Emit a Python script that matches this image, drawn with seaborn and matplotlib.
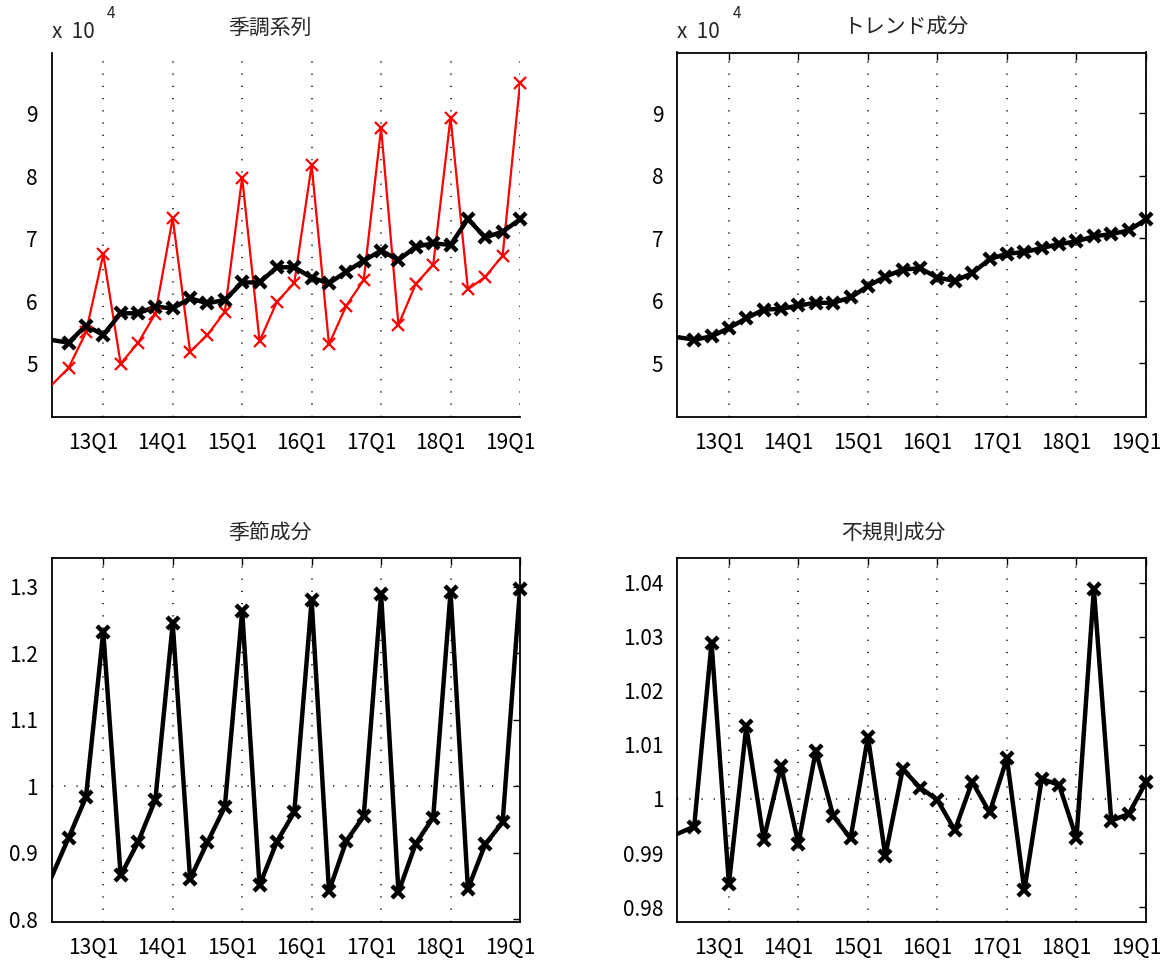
import numpy as np
import matplotlib
matplotlib.use("Agg")
import matplotlib.pyplot as plt
import matplotlib.transforms as mtransforms
from matplotlib import font_manager
from matplotlib.ticker import FuncFormatter
import seaborn as sns

# quarterly data, 12Q2 .. 19Q1
quarters = ["12Q2", "12Q3", "12Q4",
            "13Q1", "13Q2", "13Q3", "13Q4", "14Q1", "14Q2", "14Q3", "14Q4",
            "15Q1", "15Q2", "15Q3", "15Q4", "16Q1", "16Q2", "16Q3", "16Q4",
            "17Q1", "17Q2", "17Q3", "17Q4", "18Q1", "18Q2", "18Q3", "18Q4",
            "19Q1"]
original = [46500, 49300, 55000, 67500, 50000, 53300, 58000, 73300, 51900, 54600, 58300,
            79800, 53600, 59900, 62900, 81800, 53100, 59300, 63400, 87700, 56200, 62800,
            65800, 89400, 61900, 63900, 67300, 94900]
adjusted = [53800, 53350, 56100, 54600, 58060, 58060, 59120, 58860, 60460, 59660, 60200,
            63000, 63000, 65430, 65430, 63770, 62870, 64730, 66500, 68100, 66600, 68730,
            69270, 69000, 73170, 70200, 71140, 73100]
trend = [54200, 53790, 54300, 55660, 57200, 58600, 58700, 59250, 59680, 59680, 60530,
         62350, 63850, 65000, 65200, 63720, 63190, 64420, 66660, 67520, 67790, 68430,
         69070, 69490, 70300, 70670, 71250, 73000]
seasonal = [0.8624, 0.9225, 0.9835, 1.2327, 0.866, 0.916, 0.980, 1.245, 0.861, 0.916, 0.969,
            1.264, 0.851, 0.917, 0.961, 1.280, 0.8424, 0.918, 0.955, 1.289, 0.841, 0.914,
            0.953, 1.2925, 0.846, 0.913, 0.946, 1.2975]
irregular = [0.9935, 0.9949, 1.0289, 0.9843, 1.0134, 0.9925, 1.0060, 0.9917, 1.0089, 0.9969,
             0.9927, 1.0115, 0.9895, 1.0055, 1.0021, 0.9998, 0.9942, 1.0032, 0.9975, 1.0075,
             0.9831, 1.0037, 1.0026, 0.9927, 1.0389, 0.9960, 0.9972, 1.0031]
tick_labels = ["13Q1", "14Q1", "15Q1", "16Q1", "17Q1", "18Q1", "19Q1"]
titles = ["季調系列", "トレンド成分", "季節成分", "不規則成分"]

sns.set_style("white")
plt.rcParams["font.family"] = ["Noto Sans CJK JP", "DejaVu Sans"]

# narrow digits like the original, if that face is there
installed = {f.name for f in font_manager.fontManager.ttflist}
num_font = "Liberation Sans Narrow" if "Liberation Sans Narrow" in installed else "Noto Sans CJK JP"
num_size = 16 if num_font == "Liberation Sans Narrow" else 15

x = np.arange(len(quarters)) - quarters.index("13Q1")
tick_pos = [x[quarters.index(t)] for t in tick_labels]

fig = plt.figure(figsize=(11.66, 9.61), dpi=100)
W, H = 1166, 961
def px_axes(l, t, r, b):
    return fig.add_axes([l / W, 1 - b / H, (r - l) / W, (b - t) / H])

ax_sa = px_axes(51.7, 53.3, 520, 416.7)
ax_tr = px_axes(677.3, 52.5, 1146, 416.5)
ax_se = px_axes(51.7, 558.3, 520, 921.7)
ax_ir = px_axes(677.3, 558.3, 1146, 921.7)

dot = (0, (0.8, 7.2))


def draw(ax, y, color, lw, ms, mew):
    sns.lineplot(x=x, y=y, ax=ax, color=color, lw=lw, zorder=3)
    # markers only inside the visible range, not clipped at the right edge
    ax.plot(x[1:], y[1:], ls="none", marker="x", ms=ms, mew=mew, color=color,
            clip_on=False, zorder=4)


def style(ax, box=True):
    ax.set_xlim(-2.97, 24.0)
    ax.set_xticks(tick_pos)
    ax.set_xticklabels(tick_labels)
    for xp in tick_pos:
        ax.axvline(xp, color="black", lw=1.1, ls=dot, zorder=1)
    ax.tick_params(direction="in", length=5, width=1, labelsize=num_size,
                   top=box, right=box, pad=10, colors="black")
    ax.tick_params(axis="x", pad=11)
    for lbl in ax.get_xticklabels() + ax.get_yticklabels():
        lbl.set_fontfamily(num_font)
    for s in ax.spines.values():
        s.set_linewidth(1.3)
        s.set_color("black")
    if not box:
        ax.spines["top"].set_visible(False)
        ax.spines["right"].set_visible(False)
    ax.set_xlabel("")
    ax.set_ylabel("")
    off = mtransforms.ScaledTranslation(-10 / 100, 0, fig.dpi_scale_trans)
    for lbl in ax.get_xticklabels():
        lbl.set_transform(lbl.get_transform() + off)


def exponent(ax):
    ax.annotate("x  10", xy=(0, 1), xycoords="axes fraction", xytext=(0, 10),
                textcoords="offset pixels", ha="left", va="bottom",
                fontsize=num_size, family=num_font)
    ax.annotate("4", xy=(0, 1), xycoords="axes fraction", xytext=(55, 31),
                textcoords="offset pixels", ha="left", va="bottom",
                fontsize=11, family=num_font)


fmt_e4 = FuncFormatter(lambda v, p: f"{v / 1e4:g}")

# 季調系列
draw(ax_sa, original, "#ff0000", 1.6, 8, 1.6)
draw(ax_sa, adjusted, "black", 3.2, 9, 3.2)
style(ax_sa, box=False)
ax_sa.set_ylim(41500, 99700)
ax_sa.set_yticks([50000, 60000, 70000, 80000, 90000])
ax_sa.yaxis.set_major_formatter(fmt_e4)
exponent(ax_sa)

# トレンド成分
draw(ax_tr, trend, "black", 3.2, 9, 3.2)
style(ax_tr)
ax_tr.set_ylim(41500, 99700)
ax_tr.set_yticks([50000, 60000, 70000, 80000, 90000])
ax_tr.yaxis.set_major_formatter(fmt_e4)
exponent(ax_tr)

# 季節成分
ax_se.axhline(1.0, color="black", lw=1.1, ls=dot, zorder=1)
draw(ax_se, seasonal, "black", 3.2, 9, 3.2)
style(ax_se)
ax_se.set_ylim(0.7964, 1.343)
ax_se.set_yticks([0.8, 0.9, 1.0, 1.1, 1.2, 1.3])
ax_se.yaxis.set_major_formatter(FuncFormatter(lambda v, p: f"{v:g}"))

# 不規則成分
ax_ir.axhline(1.0, color="black", lw=1.1, ls=dot, zorder=1)
draw(ax_ir, irregular, "black", 3.2, 9, 3.2)
style(ax_ir)
ax_ir.set_ylim(0.9773, 1.0445)
ax_ir.set_yticks([0.98, 0.99, 1.0, 1.01, 1.02, 1.03, 1.04])
ax_ir.yaxis.set_major_formatter(FuncFormatter(lambda v, p: f"{v:g}"))

for lbl in ax_sa.get_yticklabels() + ax_tr.get_yticklabels() + \
        ax_se.get_yticklabels() + ax_ir.get_yticklabels():
    lbl.set_fontfamily(num_font)

title_x = [0.466, 0.488, 0.466, 0.46]
for ax, t, tx in zip([ax_sa, ax_tr, ax_se, ax_ir], titles, title_x):
    ax.set_title(t, fontsize=15, x=tx, pad=14)

fig.savefig("out.png", dpi=100, facecolor="white")
